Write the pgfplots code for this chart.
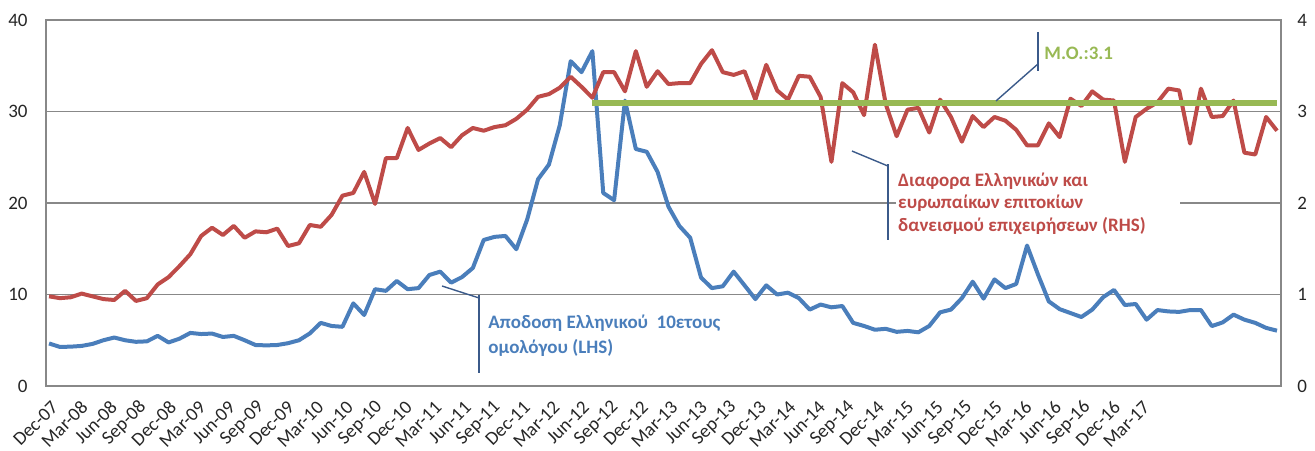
\documentclass[border=0pt]{standalone}
\usepackage{fontspec}
\setmainfont{Carlito}
\usepackage{pgfplots}
\pgfplotsset{compat=1.18}
\usepackage{pgfplotstable}

\definecolor{cblue}{HTML}{4A7EBB}
\definecolor{cred}{HTML}{BE4B48}
\definecolor{cgreen}{HTML}{98B954}
\definecolor{cgrid}{HTML}{888888}
\definecolor{clead}{HTML}{3B5A8A}

\pgfplotstableread{
i v
0 4.65
1 4.27
2 4.30
3 4.38
4 4.60
5 5.00
6 5.30
7 5.00
8 4.83
9 4.88
10 5.48
11 4.76
12 5.17
13 5.80
14 5.68
15 5.73
16 5.36
17 5.48
18 5.00
19 4.48
20 4.44
21 4.48
22 4.68
23 5.00
24 5.75
25 6.90
26 6.56
27 6.47
28 9.03
29 7.76
30 10.58
31 10.40
32 11.48
33 10.58
34 10.70
35 12.13
36 12.50
37 11.30
38 11.90
39 12.90
40 15.96
41 16.30
42 16.40
43 14.95
44 18.20
45 22.60
46 24.20
47 28.50
48 35.50
49 34.30
50 36.60
51 21.10
52 20.30
53 31.20
54 25.90
55 25.60
56 23.40
57 19.60
58 17.50
59 16.20
60 11.85
61 10.70
62 10.90
63 12.50
64 11.00
65 9.50
66 11.00
67 10.00
68 10.20
69 9.60
70 8.35
71 8.90
72 8.60
73 8.74
74 6.90
75 6.56
76 6.15
77 6.25
78 5.92
79 6.02
80 5.87
81 6.56
82 8.05
83 8.35
84 9.60
85 11.40
86 9.55
87 11.65
88 10.70
89 11.15
90 15.35
91 12.20
92 9.25
93 8.40
94 7.97
95 7.54
96 8.35
97 9.70
98 10.50
99 8.85
100 8.96
101 7.25
102 8.30
103 8.15
104 8.10
105 8.30
106 8.30
107 6.55
108 6.95
109 7.80
110 7.25
111 6.90
112 6.35
113 6.05
}\bluedata

\pgfplotstableread{
i v
0 0.98
1 0.96
2 0.97
3 1.01
4 0.98
5 0.95
6 0.94
7 1.04
8 0.93
9 0.96
10 1.11
11 1.19
12 1.31
13 1.44
14 1.64
15 1.73
16 1.65
17 1.75
18 1.62
19 1.69
20 1.68
21 1.72
22 1.53
23 1.56
24 1.76
25 1.74
26 1.87
27 2.08
28 2.11
29 2.34
30 1.99
31 2.49
32 2.49
33 2.82
34 2.58
35 2.65
36 2.71
37 2.61
38 2.74
39 2.82
40 2.79
41 2.83
42 2.85
43 2.92
44 3.02
45 3.16
46 3.19
47 3.26
48 3.38
49 3.27
50 3.15
51 3.43
52 3.43
53 3.22
54 3.66
55 3.27
56 3.44
57 3.30
58 3.31
59 3.31
60 3.52
61 3.67
62 3.43
63 3.40
64 3.44
65 3.13
66 3.51
67 3.23
68 3.13
69 3.39
70 3.38
71 3.16
72 2.45
73 3.31
74 3.21
75 2.96
76 3.73
77 3.08
78 2.73
79 3.02
80 3.04
81 2.77
82 3.13
83 2.94
84 2.67
85 2.95
86 2.83
87 2.94
88 2.90
89 2.80
90 2.63
91 2.63
92 2.87
93 2.72
94 3.14
95 3.06
96 3.22
97 3.13
98 3.12
99 2.45
100 2.94
101 3.03
102 3.10
103 3.25
104 3.23
105 2.65
106 3.25
107 2.94
108 2.95
109 3.12
110 2.55
111 2.53
112 2.94
113 2.79
}\reddata

\pgfplotstableread{
i v
50 3.09
113 3.09
}\greendata

\newcommand{\tickfont}{\fontsize{9.5}{11}\selectfont\color{black!85}}
\newcommand{\annfont}{\fontsize{9.5}{12.5}\selectfont\bfseries}

\begin{document}
\begin{tikzpicture}
\begin{axis}[
  at={(0,0)}, anchor=south west,
  scale only axis, width=617.5pt, height=183pt,
  xmin=-0.28, xmax=113.37, ymin=0, ymax=40,
  axis line style={cgrid, line width=0.8pt},
  ytick={0,10,20,30,40},
  ymajorgrids, grid style={cgrid, line width=0.8pt},
  major tick length=0pt,
  xtick={0,2.715,...,100.5},
  xticklabels={Dec-07,Mar-08,Jun-08,Sep-08,Dec-08,Mar-09,Jun-09,Sep-09,Dec-09,Mar-10,Jun-10,Sep-10,Dec-10,Mar-11,Jun-11,Sep-11,Dec-11,Mar-12,Jun-12,Sep-12,Dec-12,Mar-13,Jun-13,Sep-13,Dec-13,Mar-14,Jun-14,Sep-14,Dec-14,Mar-15,Jun-15,Sep-15,Dec-15,Mar-16,Jun-16,Sep-16,Dec-16,Mar-17},
  xticklabel style={font=\tickfont, xshift=3pt, yshift=-9pt, rotate=45, anchor=east, inner sep=0pt},
  yticklabel style={font=\tickfont, anchor=east, inner sep=0pt, xshift=-9pt},
  /pgf/number format/assume math mode=true,
  clip=false,
]
\addplot[cblue, line width=2pt, line join=round] table[x=i, y=v] {\bluedata};
\end{axis}
\begin{axis}[
  at={(0,0)}, anchor=south west,
  scale only axis, width=617.5pt, height=183pt,
  xmin=-0.28, xmax=113.37, ymin=0, ymax=4,
  hide x axis,
  axis y line*=right,
  y axis line style={draw=none},
  ytick={0,1,2,3,4},
  major tick length=0pt,
  yticklabel style={font=\tickfont, anchor=west, inner sep=0pt, xshift=8pt},
  /pgf/number format/assume math mode=true,
  clip=false,
]
% white box behind red annotation (covers the gridline)
\fill[white] (axis cs:77.9,2.38) rectangle (axis cs:104.1,1.62);
\addplot[cred, line width=2pt, line join=round] table[x=i, y=v] {\reddata};
\addplot[cgreen, line width=2.8pt] table[x=i, y=v] {\greendata};
% blue annotation
\draw[clead, line width=0.7pt] (axis cs:36.16,1.093) -- (axis cs:39.57,0.962);
\draw[clead, line width=0.7pt] (axis cs:39.57,0.995) -- (axis cs:39.57,0.142);
\node[anchor=west, align=left, text=cblue, font=\annfont, inner sep=0pt] at (axis cs:40.4,0.552) {Αποδοση Ελληνικού\ \ 10ετους\\ομολόγου (LHS)};
% red annotation
\draw[clead, line width=0.7pt] (axis cs:73.89,2.568) -- (axis cs:77.2,2.404);
\draw[clead, line width=0.7pt] (axis cs:77.2,2.426) -- (axis cs:77.2,1.596);
\node[anchor=west, align=left, text=cred, font=\fontsize{9.5}{11.25}\selectfont\bfseries, inner sep=0pt] at (axis cs:78.1,1.995) {Διαφορα Ελληνικών και\\ευρωπαίκων επιτοκίων\\δανεισμού επιχειρήσεων (RHS)};
% green annotation
\draw[clead, line width=0.7pt] (axis cs:87.14,3.115) -- (axis cs:91.0,3.519);
\draw[clead, line width=0.7pt] (axis cs:91.0,3.869) -- (axis cs:91.0,3.443);
\node[anchor=west, text=cgreen, font=\annfont, inner sep=0pt] at (axis cs:91.56,3.639) {M.O.:3.1};
\end{axis}
\pgfresetboundingbox
\path[use as bounding box] (-23pt,-32pt) rectangle (634.5pt,193pt);
\end{tikzpicture}
\end{document}
